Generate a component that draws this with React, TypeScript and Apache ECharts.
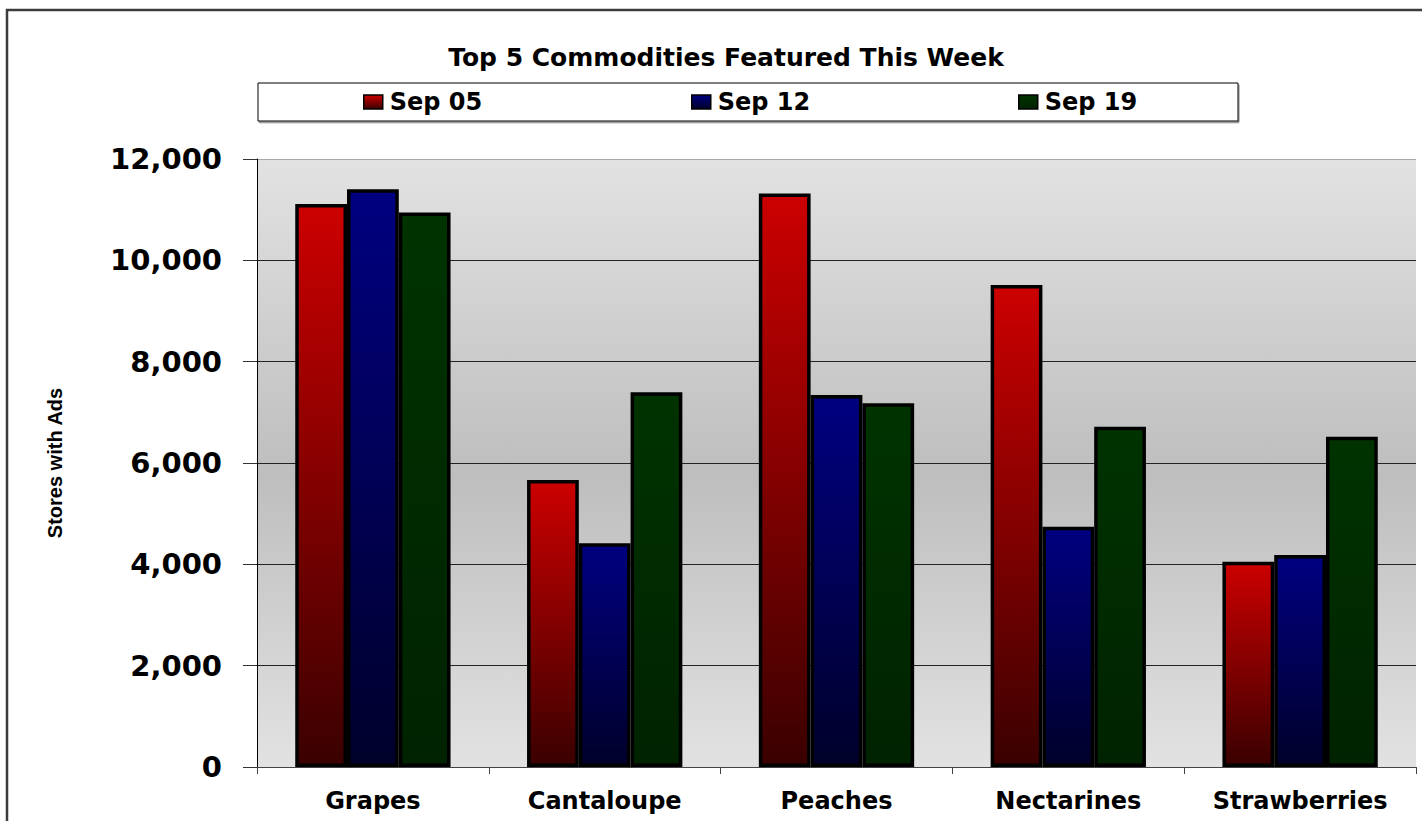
import React, { useEffect, useRef } from "react";
import * as echarts from "echarts";

const categories = ["Grapes", "Cantaloupe", "Peaches", "Nectarines", "Strawberries"];
const seriesNames = ["Sep 05", "Sep 12", "Sep 19"];
const sep05 = [11110, 5665, 11320, 9513, 4050];
const sep12 = [11405, 4415, 7342, 4743, 4184];
const sep19 = [10945, 7395, 7178, 6716, 6519];
const yTicks = [0, 2000, 4000, 6000, 8000, 10000, 12000];

const topColors = ["#CC0000", "#000080", "#003300"];
const bottomColors = ["#3A0000", "#00002A", "#002200"];
const legendLefts = [363, 691, 1018];

const grad = (i: number) =>
  new echarts.graphic.LinearGradient(0, 0, 0, 1, [
    { offset: 0, color: topColors[i] },
    { offset: 1, color: bottomColors[i] },
  ]);

export default function App() {
  const ref = useRef<HTMLDivElement>(null);
  useEffect(() => {
    document.body.style.margin = "0";
    if (!ref.current) return;
    const chart = echarts.init(ref.current, undefined, { renderer: "svg" });
    const data = [sep05, sep12, sep19];
    const boldFont = "'DejaVu Sans', Arial, sans-serif";
    chart.setOption({
      animation: false,
      backgroundColor: "#ffffff",
      title: {
        text: "Top 5 Commodities Featured This Week",
        left: 721,
        top: 40,
        textAlign: "center",
        textStyle: { fontFamily: boldFont, fontWeight: "bold", fontSize: 25, color: "#000" },
      },
      graphic: [
        {
          type: "rect",
          z: 0,
          shape: { x: 7, y: 10, width: 1450, height: 850 },
          style: { fill: "none", stroke: "#3c3c3c", lineWidth: 2.5 },
        },
        {
          type: "rect",
          z: 1,
          shape: { x: 258, y: 83, width: 980, height: 38 },
          style: {
            fill: "#ffffff",
            stroke: "#000",
            lineWidth: 1,
            shadowColor: "#808080",
            shadowOffsetX: 1,
            shadowOffsetY: 1.5,
            shadowBlur: 0,
          },
        },
      ],
      legend: seriesNames.map((n, i) => ({
        data: [n],
        left: legendLefts[i],
        top: 90,
        padding: 0,
        icon: "rect",
        itemWidth: 19,
        itemHeight: 14,
        itemGap: 8,
        z: 5,
        itemStyle: { borderColor: "#000", borderWidth: 1.5 },
        textStyle: { fontFamily: boldFont, fontWeight: "bold", fontSize: 24, color: "#000", padding: [0, 0, 0, 2] },
      })),
      grid: {
        left: 257,
        top: 159,
        right: 6,
        bottom: 54,
        show: true,
        borderWidth: 0,
        backgroundColor: new echarts.graphic.LinearGradient(0, 0, 0, 1, [
          { offset: 0, color: "#E2E2E2" },
          { offset: 0.52, color: "#BEBEBE" },
          { offset: 1, color: "#E2E2E2" },
        ]),
      },
      xAxis: {
        type: "category",
        data: categories,
        axisLine: { show: true, lineStyle: { color: "#444", width: 1 } },
        axisTick: { show: true, length: 7, lineStyle: { color: "#444" } },
        axisLabel: {
          margin: 22,
          fontFamily: boldFont,
          fontWeight: "bold",
          fontSize: 24,
          color: "#000",
        },
      },
      yAxis: {
        type: "value",
        min: 0,
        max: 12000,
        interval: 2000,
        name: "Stores with Ads",
        nameLocation: "middle",
        nameGap: 192,
        nameRotate: 90,
        nameTextStyle: {
          fontFamily: "'Liberation Sans', Arial, sans-serif",
          fontWeight: "bold",
          fontSize: 20,
          color: "#000",
        },
        axisLine: { show: true, lineStyle: { color: "#000", width: 1 } },
        axisTick: { show: true, length: 14, lineStyle: { color: "#333" } },
        axisLabel: {
          margin: 35,
          fontFamily: boldFont,
          fontWeight: "bold",
          fontSize: 29,
          color: "#000",
          formatter: (v: number) => v.toLocaleString("en-US"),
        },
        splitLine: {
          show: true,
          lineStyle: { color: ["#000", "#222", "#222", "#222", "#222", "#222", "#aaaaaa"], width: 1 },
        },
      },
      series: seriesNames.map((n, i) => ({
        name: n,
        type: "bar",
        data: data[i],
        barGap: "0%",
        barCategoryGap: "33%",
        itemStyle: { color: grad(i), borderColor: "#000", borderWidth: 3.5 },
      })),
    });
    return () => chart.dispose();
  }, []);
  return <div ref={ref} style={{ width: 1422, height: 821 }} />;
}
